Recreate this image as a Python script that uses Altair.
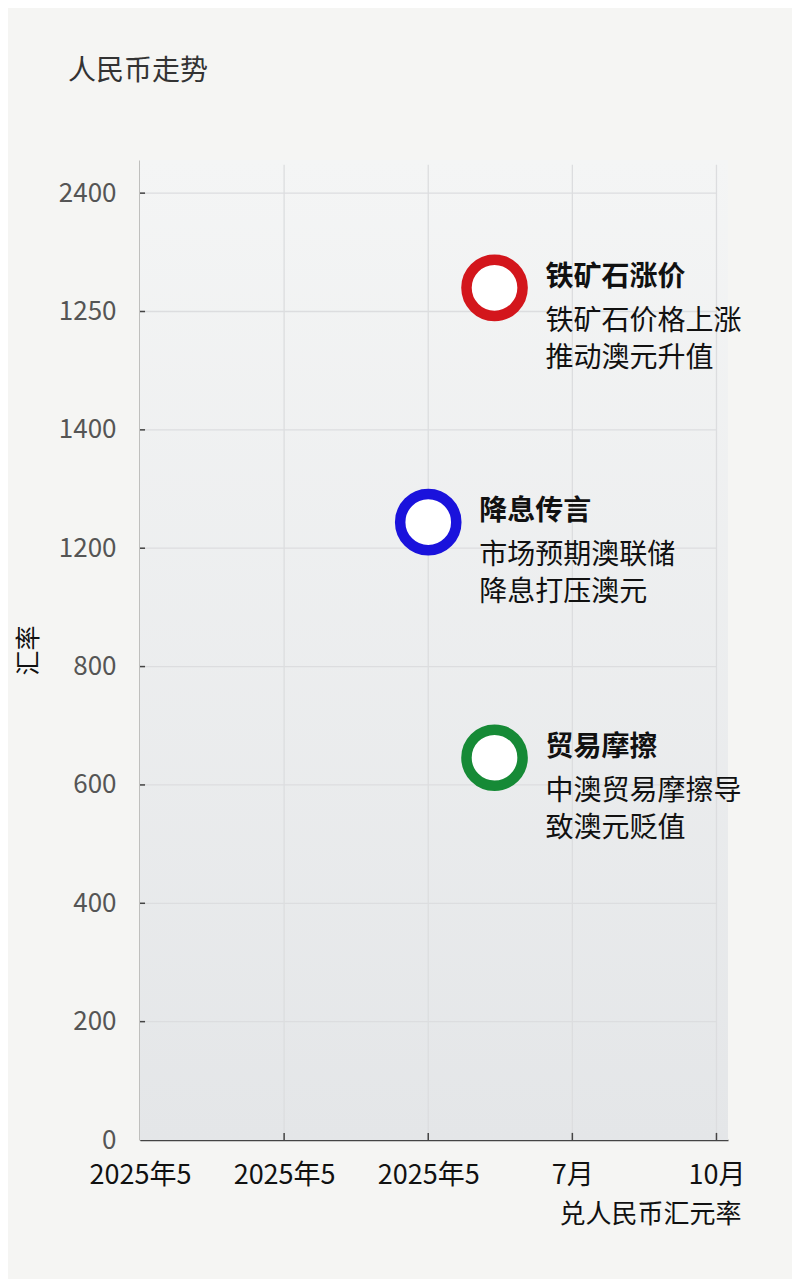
import altair as alt
import pandas as pd

FONT = "Noto Sans CJK SC"

# axis tick labels (as printed in the picture)
y_labels = ["0", "200", "400", "600", "800", "1200", "1400", "1250", "2400"]
x_labels = ["2025年5", "2025年5", "2025年5", "7月", "10月"]

# events
ev_x = [2.46, 2.0, 2.46]
ev_y = [7.2, 5.22, 3.23]
ev_title = ["铁矿石涨价", "降息传言", "贸易摩擦"]
ev_line1 = ["铁矿石价格上涨", "市场预期澳联储", "中澳贸易摩擦导"]
ev_line2 = ["推动澳元升值", "降息打压澳元", "致澳元贬值"]
ev_color = ["#d3161c", "#1a12dc", "#168a36"]

events = pd.DataFrame({
    "x": ev_x, "y": ev_y, "title": ev_title,
    "line1": ev_line1, "line2": ev_line2, "color": ev_color,
})

X_MAX = 4.08
Y_MAX = 8.28
area = pd.DataFrame({"x0": [0], "x1": [X_MAX], "y0": [0], "y1": [Y_MAX]})
xgrid = pd.DataFrame({"x": [1, 2, 3, 4], "y0": [0] * 4, "y1": [8.24] * 4})
ygrid = pd.DataFrame({"y": list(range(1, 9)), "x0": [0] * 8, "x1": [4.0] * 8})
xticks = pd.DataFrame({"x": [1, 2, 3, 4], "y0": [0] * 4, "y1": [0.06] * 4})
yticks = pd.DataFrame({"y": list(range(1, 9)), "x0": [0] * 8, "x1": [0.035] * 8})

y_expr = "[" + ",".join("'%s'" % s for s in y_labels) + "][datum.value]"
x_expr = "[" + ",".join("'%s'" % s for s in x_labels) + "][datum.value]"

xs = alt.Scale(domain=[0, X_MAX], nice=False, zero=False)
ys = alt.Scale(domain=[0, Y_MAX], nice=False, zero=False)

x_axis = alt.Axis(
    values=[0, 1, 2, 3, 4], labelExpr=x_expr, title="兑人民币汇元率",
    grid=False, ticks=False,
    domainColor="#444", domainWidth=1.6, labelColor="#111", labelFontSize=27,
    labelPadding=22, labelFont=FONT, labelOverlap=False, labelBound=False, labelFlush=False,
    titleFont=FONT, titleFontSize=26, titleFontWeight="normal", titleColor="#111",
    titleAnchor="start", titleAlign="right", titleX=601, titleY=74, titleBaseline="middle",
)
y_axis = alt.Axis(
    values=list(range(9)), labelExpr=y_expr, title="汇率",
    grid=False, ticks=False,
    domainColor="#444", domainWidth=1.6, labelColor="#555", labelFontSize=26,
    labelPadding=24, labelFont=FONT, labelOverlap=False, labelBound=False, labelFlush=False,
    titleFont=FONT, titleFontSize=25, titleFontWeight="normal", titleColor="#111",
    titleX=-112, titleY=490, titleAngle=-90, titleAlign="center", titleBaseline="middle",
)

bg = alt.Chart(area).mark_rect(
    color={"x1": 0, "y1": 0, "x2": 0, "y2": 1, "gradient": "linear",
           "stops": [{"offset": 0, "color": "#f4f5f5"}, {"offset": 1, "color": "#e4e6e8"}]}
).encode(
    x=alt.X("x0:Q", scale=xs, axis=x_axis), x2="x1:Q",
    y=alt.Y("y0:Q", scale=ys, axis=y_axis), y2="y1:Q",
)

gx = alt.Chart(xgrid).mark_rule(color="#dcdddf", strokeWidth=1.3).encode(
    x=alt.X("x:Q", scale=xs), y=alt.Y("y0:Q", scale=ys), y2="y1:Q")
gy = alt.Chart(ygrid).mark_rule(color="#dcdddf", strokeWidth=1.3).encode(
    y=alt.Y("y:Q", scale=ys), x=alt.X("x0:Q", scale=xs), x2="x1:Q")

base = alt.Chart(events)

pts = base.mark_point(shape="circle", filled=False, fill="white", fillOpacity=1,
                      size=3150, strokeWidth=10.5, opacity=1).encode(
    x=alt.X("x:Q", scale=xs),
    y=alt.Y("y:Q", scale=ys),
    stroke=alt.Color("color:N", scale=None),
)

t_title = base.mark_text(align="left", baseline="middle", dx=51, dy=-10, font=FONT,
                         fontSize=28, fontWeight="bold", color="#111").encode(
    x=alt.X("x:Q", scale=xs), y=alt.Y("y:Q", scale=ys), text="title:N")
t_l1 = base.mark_text(align="left", baseline="middle", dx=51, dy=34, font=FONT,
                      fontSize=28, color="#111").encode(
    x=alt.X("x:Q", scale=xs), y=alt.Y("y:Q", scale=ys), text="line1:N")
t_l2 = base.mark_text(align="left", baseline="middle", dx=51, dy=71, font=FONT,
                      fontSize=28, color="#111").encode(
    x=alt.X("x:Q", scale=xs), y=alt.Y("y:Q", scale=ys), text="line2:N")

xt = alt.Chart(xticks).mark_rule(color="#444", strokeWidth=1.5).encode(
    x=alt.X("x:Q", scale=xs), y=alt.Y("y0:Q", scale=ys), y2="y1:Q")
yt = alt.Chart(yticks).mark_rule(color="#444", strokeWidth=1.5).encode(
    y=alt.Y("y:Q", scale=ys), x=alt.X("x0:Q", scale=xs), x2="x1:Q")

chart = alt.layer(bg, gx, gy, xt, yt, pts, t_title, t_l1, t_l2).properties(
    width=588, height=980,
    title=alt.TitleParams("人民币走势", anchor="start", frame="group", dx=-72,
                          offset=60, fontSize=28, fontWeight="normal", font=FONT,
                          color="#333", baseline="middle"),
    padding={"left": 132, "top": 152, "right": 64, "bottom": 139},
    autosize=alt.AutoSizeParams(type="none"),
    background="#f5f5f3",
).configure_view(stroke=None)

chart.save("out.html", embed_options={"renderer": "svg", "actions": False})
